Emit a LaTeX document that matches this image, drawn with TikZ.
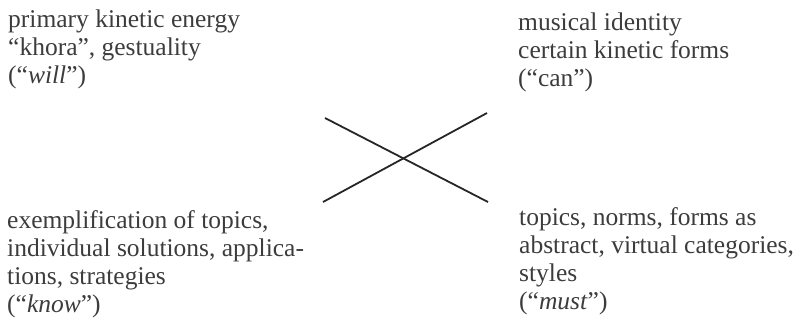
\documentclass[tikz,border=0pt]{standalone}
\usepackage{fontspec}
\setmainfont{Liberation Serif}
\usepackage{xcolor}
\usetikzlibrary{positioning,calc}
\definecolor{inkgray}{HTML}{3C3C3C}
\tikzset{
    quad/.style={anchor=base west, align=left, inner sep=0pt, text=inkgray,
        font=\fontsize{25.5}{27.7}\selectfont},
    cross/.style={line width=1.8pt, draw=black!85}
}

\begin{document}
\begin{tikzpicture}[x=1pt, y=-1pt]
    \useasboundingbox (0,0) rectangle (802,333);

    % Quadrants (anchored at the baseline of the last line)
    \node[quad] (will) at (8, 83) {primary kinetic energy\\ ``khora'', gestuality\\ (``\textit{will}'')};
    \node[quad] (can) at (518, 86) {musical identity\\ certain kinetic forms\\ (``can'')};
    \node[quad] (know) at (7, 312) {exemplification of topics,\\ individual solutions, applica-\\ tions, strategies\\ (``\textit{know}'')};
    \node[quad] (must) at (519, 309) {topics, norms, forms as\\ abstract, virtual categories,\\ styles\\ (``\textit{must}'')};

    % Cross
    \coordinate (nw) at (325, 118);
    \coordinate (se) at (488, 202);
    \coordinate (sw) at (323, 202);
    \coordinate (ne) at (487, 113);
    \draw[cross] (nw) -- (se);
    \draw[cross] (sw) -- (ne);
\end{tikzpicture}
\end{document}
